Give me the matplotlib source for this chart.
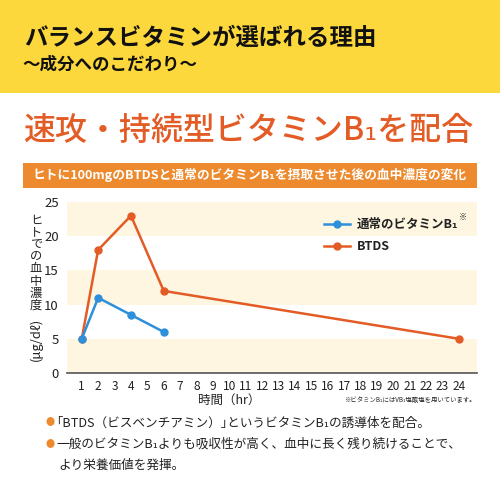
import matplotlib
matplotlib.use("Agg")
import matplotlib.pyplot as plt
from matplotlib.patches import Rectangle

plt.rcParams['font.family'] = ['Noto Sans CJK JP', 'DejaVu Sans']

# データ
hours = list(range(1, 25))
normal_x = [1, 2, 4, 6]
normal_y = [5, 11, 8.5, 6]
btds_x = [1, 2, 4, 6, 24]
btds_y = [5, 18, 23, 12, 5]
y_ticks = [0, 5, 10, 15, 20, 25]

title = "バランスビタミンが選ばれる理由"
subtitle = "～成分へのこだわり～"
headline = "速攻・持続型ビタミンB₁を配合"
bar_text = "ヒトに100mgのBTDSと通常のビタミンB₁を摂取させた後の血中濃度の変化"
ylabel_chars = "ヒトでの血中濃度"
ylabel_unit = "(μg/dℓ)"
bullets = ["｢BTDS（ビスベンチアミン）｣というビタミンB₁の誘導体を配合。",
           "一般のビタミンB₁よりも吸収性が高く、血中に長く残り続けることで、"]
bullet_cont = "より栄養価値を発揮。"

YELLOW = "#FDD83C"
ORANGE = "#E35B25"
BAR_ORANGE = "#EE8A2E"
BLUE = "#2E8FDB"
CREAM = "#FEF6E1"
TEXT = "#222222"

W = H = 500.0


def fx(px):
    return px / W


def fy(py):
    return 1 - py / H


fig = plt.figure(figsize=(5, 5), dpi=100)
fig.patch.set_facecolor("white")

# 上部の黄色い帯
fig.patches.append(Rectangle((0, fy(93)), 1, 93 / H, transform=fig.transFigure,
                             facecolor=YELLOW, edgecolor="none", zorder=0))
fig.text(fx(24), fy(38), title, fontsize=16.9, fontweight="bold", color="#111111", va="center")
fig.text(fx(22), fy(65), subtitle, fontsize=12.6, fontweight="bold", color="#111111", va="center")

# 見出し
fig.text(fx(23), fy(131), headline, fontsize=23, fontweight="medium", color=ORANGE, va="center")

# オレンジのバー
fig.patches.append(Rectangle((fx(23), fy(188)), fx(477) - fx(23), 25 / H,
                             transform=fig.transFigure, facecolor=BAR_ORANGE,
                             edgecolor="none", zorder=0))
fig.text(0.5, fy(175.5), bar_text, fontsize=9.2, fontweight="bold", color="white",
         ha="center", va="center")

# グラフ
ax = fig.add_axes([fx(67), fy(373), fx(477) - fx(67), (373 - 202) / H])
ax.set_xlim(0.1, 25.1)
ax.set_ylim(0, 25)
for i in range(0, 25, 10):
    ax.axhspan(i, i + 5, color=CREAM, lw=0, zorder=0)

ax.plot(btds_x, btds_y, color=ORANGE, lw=1.8, marker="o", ms=5, label="BTDS", zorder=3)
ax.plot(normal_x, normal_y, color=BLUE, lw=1.8, marker="o", ms=5,
        label="通常のビタミンB₁", zorder=4)

for s in ["top", "right", "left"]:
    ax.spines[s].set_visible(False)
ax.spines["bottom"].set_color("#555555")
ax.spines["bottom"].set_linewidth(1.2)
ax.set_xticks(hours)
ax.set_yticks(y_ticks)
ax.tick_params(axis="x", length=0, labelsize=8.6, colors=TEXT, pad=5)
ax.tick_params(axis="y", length=0, labelsize=9.5, colors=TEXT, pad=6)

handles, labels = ax.get_legend_handles_labels()
leg = ax.legend(handles[::-1], labels[::-1], loc="upper left",
                bbox_to_anchor=((319 - 67) / 410, (373 - 213) / 171),
                frameon=False, fontsize=9.0, handlelength=2.1, handletextpad=0.5,
                labelspacing=0.75, borderaxespad=0, numpoints=1)
for t in leg.get_texts():
    t.set_fontweight("bold")
    t.set_color(TEXT)
fig.text(fx(459), fy(217), "※", fontsize=5.8, color=TEXT, ha="left", va="center")

# 縦書きの軸ラベル
for i, ch in enumerate(ylabel_chars):
    fig.text(fx(36), fy(220 + i * 12.2), ch, fontsize=8.8, color=TEXT,
             ha="center", va="center")
fig.text(fx(36), fy(339), ylabel_unit, fontsize=9.3, color=TEXT, rotation=90,
         ha="center", va="center")

fig.text(fx(229), fy(400), "時間（hr）", fontsize=9, color=TEXT, ha="center", va="center")
fig.text(fx(476), fy(400), "※ビタミンB₁にはVB₁塩酸塩を用いています。", fontsize=4.6,
         color=TEXT, ha="right", va="center")

# 説明文
for py, txt in zip([423, 444], bullets):
    fig.text(fx(50), fy(py), "●", fontsize=6.5, color=BAR_ORANGE, ha="center", va="center")
    fig.text(fx(56), fy(py), txt, fontsize=9.1, color=TEXT, va="center")
fig.text(fx(58), fy(465), bullet_cont, fontsize=9.1, color=TEXT, va="center")

fig.savefig("out.png", dpi=100)
